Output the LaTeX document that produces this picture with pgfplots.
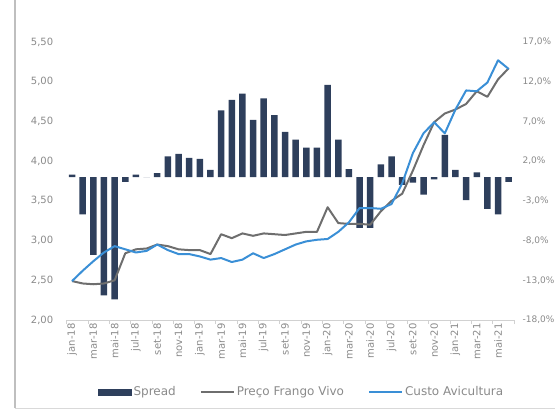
\documentclass[border=0pt]{standalone}
\usepackage{pgfplots}
\pgfplotsset{compat=1.18}
\usepackage{pgfplotstable}
\usepackage{fontspec}
\setmainfont{DejaVu Sans}
\definecolor{barcol}{HTML}{2E3F5C}
\definecolor{graycol}{HTML}{6E6E6E}
\definecolor{bluecol}{HTML}{3A8FD6}
\definecolor{txtcol}{HTML}{8A8A8A}

\pgfplotstableread{
i spread preco custo
0 0.3 2.49 2.49
1 -4.7 2.46 2.62
2 -9.8 2.45 2.74
3 -14.9 2.46 2.85
4 -15.4 2.50 2.93
5 -0.6 2.84 2.89
6 0.3 2.89 2.85
7 0 2.90 2.87
8 0.5 2.95 2.95
9 2.6 2.93 2.88
10 2.9 2.89 2.83
11 2.4 2.88 2.83
12 2.3 2.88 2.80
13 0.9 2.83 2.76
14 8.4 3.08 2.78
15 9.7 3.03 2.73
16 10.5 3.09 2.76
17 7.2 3.06 2.84
18 9.9 3.09 2.78
19 7.8 3.08 2.83
20 5.7 3.07 2.89
21 4.7 3.09 2.95
22 3.7 3.11 2.99
23 3.7 3.11 3.01
24 11.6 3.42 3.02
25 4.7 3.22 3.11
26 1.0 3.21 3.23
27 -6.4 3.21 3.41
28 -6.4 3.20 3.41
29 1.6 3.37 3.40
30 2.6 3.50 3.46
31 -1.0 3.59 3.72
32 -0.7 3.88 4.10
33 -2.2 4.20 4.35
34 -0.3 4.49 4.49
35 5.3 4.60 4.35
36 0.9 4.65 4.65
37 -2.9 4.72 4.89
38 0.6 4.88 4.88
39 -4.0 4.81 4.99
40 -4.7 5.03 5.27
41 -0.6 5.17 5.16
}\data

\begin{document}
\begin{tikzpicture}
\pgfplotsset{
  base/.style={
    scale only axis, width=448.4pt, height=278pt,
    xmin=-0.5, xmax=41.6,
    /pgf/number format/assume math mode=true,
    tick label style={font=\fontsize{10}{12}\selectfont, text=txtcol},
    axis line style={-},
  }
}
\begin{axis}[base,
  ymin=-18, ymax=17, ytick={-18,-13,...,17},
  axis y line*=right, axis x line=none,
  y axis line style={draw=none},
  major tick length=0pt,
  yticklabel={\pgfmathprintnumber[fixed,fixed zerofill,precision=1,use comma,assume math mode=true]{\tick}\%},
  yticklabel style={xshift=4pt, font=\fontsize{9}{11}\selectfont},
]
\addplot[ybar, bar width=6.5pt, fill=barcol, draw=none] table[x=i,y=spread]{\data};
\end{axis}
\begin{axis}[base,
  ymin=2, ymax=5.5, ytick={2,2.5,...,5.5},
  axis x line*=bottom, axis y line*=left,
  y axis line style={draw=none},
  x axis line style={draw=black!18, line width=0.8pt},
  xtick={0,2,...,40},
  xticklabels={jan-18,mar-18,mai-18,jul-18,set-18,nov-18,jan-19,mar-19,mai-19,jul-19,set-19,nov-19,jan-20,mar-20,mai-20,jul-20,set-20,nov-20,jan-21,mar-21,mai-21},
  xticklabel style={rotate=90, anchor=east, font=\fontsize{10}{11}\selectfont},
  major tick length=0pt,
  xtick align=outside,
  extra x ticks={-0.5,1.5,...,41.5},
  extra x tick labels={},
  extra x tick style={major tick length=4pt, tick style={draw=black!18, line width=0.8pt}},
  yticklabel style={/pgf/number format/fixed, /pgf/number format/fixed zerofill, /pgf/number format/precision=2, /pgf/number format/use comma, xshift=-10pt},
  legend style={at={(0.524,-0.259)}, anchor=center, draw=none, fill=none,
    legend columns=3, font=\fontsize{12}{14}\selectfont, text=txtcol,
    /tikz/every even column/.append style={column sep=22pt}},
]
\addlegendimage{legend image code/.code={\fill[barcol] (0pt,-3pt) rectangle (33pt,3pt);}}
\addlegendentry{Spread}
\addplot[graycol, line width=2pt, line join=round,
  legend image code/.code={\draw[graycol, line width=2pt] (0pt,0pt) -- (33pt,0pt);}]
  table[x=i,y=preco]{\data};
\addlegendentry{Preço Frango Vivo}
\addplot[bluecol, line width=2pt, line join=round,
  legend image code/.code={\draw[bluecol, line width=2pt] (0pt,0pt) -- (33pt,0pt);}]
  table[x=i,y=custo]{\data};
\addlegendentry{Custo Avicultura}
\end{axis}
\draw[black!25, line width=1.5pt] (-51.7pt,320pt) -- (-51.7pt,-88pt);
\draw[black!15, line width=1pt] (-51.7pt,-88pt) -- (488.3pt,-88pt);
\pgfresetboundingbox
\useasboundingbox (-66.7pt,-90pt) rectangle (488.3pt,320pt);
\end{tikzpicture}
\end{document}
